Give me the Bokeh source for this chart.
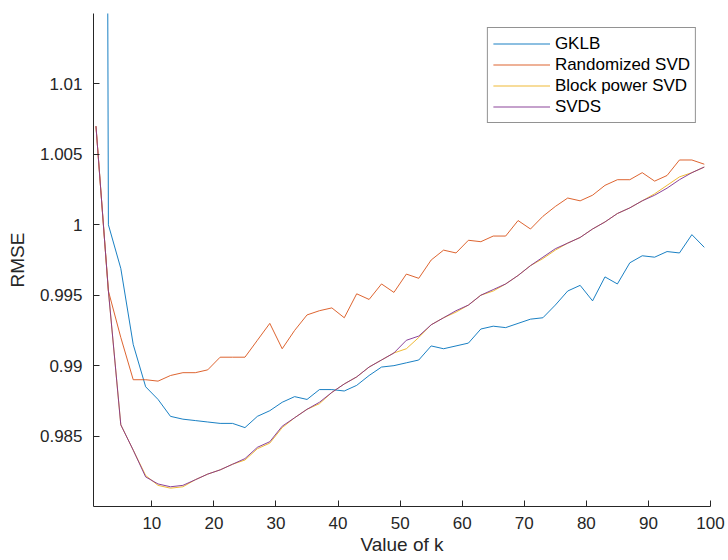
from bokeh.plotting import figure
from bokeh.models import Legend, LegendItem, FixedTicker, Range1d
from bokeh.embed import file_html
from bokeh.resources import INLINE

k_values = list(range(1, 100, 2))

gklb = [1.3000, 1.0000, 0.9969, 0.9915, 0.9885, 0.9876, 0.9864, 0.9862, 0.9861, 0.9860,
        0.9859, 0.9859, 0.9856, 0.9864, 0.9868, 0.9874, 0.9878, 0.9876, 0.9883, 0.9883,
        0.9882, 0.9886, 0.9893, 0.9899, 0.9900, 0.9902, 0.9904, 0.9914, 0.9912, 0.9914,
        0.9916, 0.9926, 0.9928, 0.9927, 0.9930, 0.9933, 0.9934, 0.9943, 0.9953, 0.9957,
        0.9946, 0.9963, 0.9958, 0.9973, 0.9978, 0.9977, 0.9981, 0.9980, 0.9993, 0.9984]

randomized_svd = [1.0070, 0.9953, 0.9920, 0.9890, 0.9890, 0.9889, 0.9893, 0.9895, 0.9895, 0.9897,
                  0.9906, 0.9906, 0.9906, 0.9918, 0.9930, 0.9912, 0.9925, 0.9936, 0.9939, 0.9941,
                  0.9934, 0.9951, 0.9947, 0.9958, 0.9952, 0.9965, 0.9962, 0.9975, 0.9982, 0.9980,
                  0.9989, 0.9988, 0.9992, 0.9992, 1.0003, 0.9997, 1.0006, 1.0013, 1.0019, 1.0017,
                  1.0021, 1.0028, 1.0032, 1.0032, 1.0037, 1.0031, 1.0035, 1.0046, 1.0046, 1.0043]

block_power_svd = [1.0070, 0.9953, 0.9858, 0.9840, 0.9822, 0.9815, 0.9813, 0.9814, 0.9819, 0.9823,
                   0.9826, 0.9830, 0.9833, 0.9841, 0.9845, 0.9856, 0.9863, 0.9869, 0.9873, 0.9881,
                   0.9887, 0.9892, 0.9899, 0.9904, 0.9909, 0.9912, 0.9920, 0.9929, 0.9934, 0.9938,
                   0.9943, 0.9950, 0.9953, 0.9958, 0.9964, 0.9971, 0.9976, 0.9982, 0.9987, 0.9991,
                   0.9997, 1.0002, 1.0008, 1.0012, 1.0017, 1.0022, 1.0028, 1.0034, 1.0037, 1.0041]

svds = [1.0070, 0.9953, 0.9858, 0.9840, 0.9821, 0.9816, 0.9814, 0.9815, 0.9819, 0.9823,
        0.9826, 0.9830, 0.9834, 0.9842, 0.9846, 0.9857, 0.9863, 0.9869, 0.9874, 0.9881,
        0.9887, 0.9892, 0.9899, 0.9904, 0.9909, 0.9918, 0.9921, 0.9929, 0.9934, 0.9939,
        0.9943, 0.9950, 0.9954, 0.9958, 0.9964, 0.9971, 0.9977, 0.9983, 0.9987, 0.9991,
        0.9997, 1.0002, 1.0008, 1.0012, 1.0017, 1.0021, 1.0026, 1.0032, 1.0037, 1.0041]

series_names = ["GKLB", "Randomized SVD", "Block power SVD", "SVDS"]
series_colors = ["#0072BD", "#D95319", "#EDB120", "#7E2F8E"]

x_ticks = [10, 20, 30, 40, 50, 60, 70, 80, 90, 100]
y_ticks = [0.985, 0.99, 0.995, 1.0, 1.005, 1.01]
y_tick_labels = ["0.985", "0.99", "0.995", "1", "1.005", "1.01"]

FONT = "Liberation Sans"
AX = "#262626"

p = figure(width=728, height=560, output_backend="svg", toolbar_location=None,
           x_range=Range1d(0.6, 100), y_range=Range1d(0.98, 1.015),
           min_border_left=93, min_border_right=18, min_border_top=13, min_border_bottom=54)
p.outline_line_color = None
p.xgrid.visible = False
p.ygrid.visible = False
p.background_fill_color = "white"
p.border_fill_color = "white"

renderers = []
for name, ys, col in zip(series_names, [gklb, randomized_svd, block_power_svd, svds], series_colors):
    r = p.line(k_values, ys, line_color=col, line_width=1.0, line_alpha=0.9)
    renderers.append((name, r))

for ax in (p.xaxis[0], p.yaxis[0]):
    ax.axis_line_color = AX
    ax.axis_line_width = 1
    ax.major_tick_line_color = AX
    ax.major_tick_in = 6
    ax.major_tick_out = 0
    ax.minor_tick_line_color = None
    ax.major_label_text_font = FONT
    ax.major_label_text_font_size = "17px"
    ax.major_label_text_color = AX
    ax.axis_label_text_font = FONT
    ax.axis_label_text_font_size = "19px"
    ax.axis_label_text_font_style = "normal"
    ax.axis_label_text_color = AX

p.xaxis.ticker = FixedTicker(ticks=x_ticks)
p.xaxis.major_label_overrides = {t: str(t) for t in x_ticks}
p.xaxis.axis_label = "Value of k"
p.xaxis.major_label_standoff = 10
p.xaxis.axis_label_standoff = 2

p.yaxis.ticker = FixedTicker(ticks=y_ticks)
p.yaxis.major_label_overrides = {t: l for t, l in zip(y_ticks, y_tick_labels)}
p.yaxis.axis_label = "RMSE"
p.yaxis.major_label_standoff = 11
p.yaxis.axis_label_standoff = 9

legend = Legend(items=[LegendItem(label=n, renderers=[r]) for n, r in renderers],
                location="top_right", margin=14, padding=5, spacing=0,
                label_height=21, glyph_height=21, glyph_width=57, label_standoff=5,
                label_text_font=FONT, label_text_font_size="17px", label_text_color="#000000",
                border_line_color=AX, border_line_width=1, background_fill_alpha=1.0)
p.add_layout(legend)

open("out.html", "w").write(file_html(p, INLINE))
